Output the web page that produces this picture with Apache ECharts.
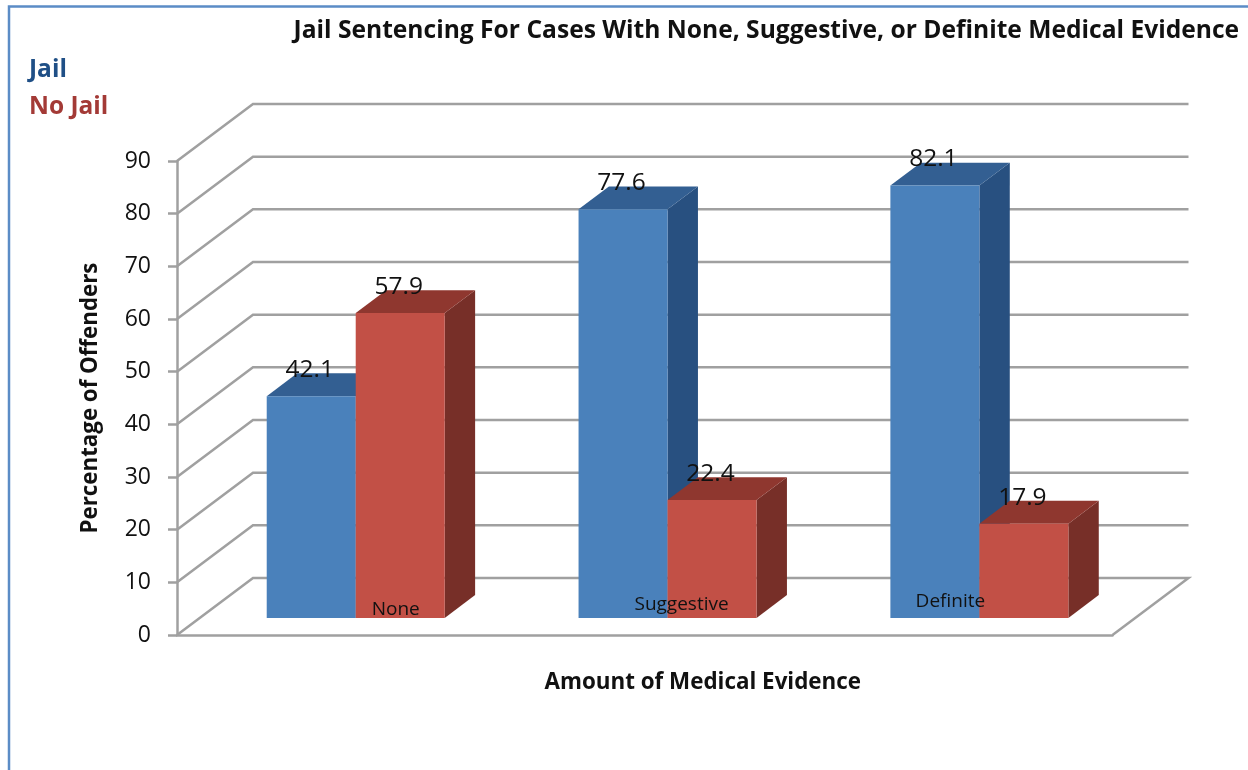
<!DOCTYPE html>
<html>
<head>
<meta charset="utf-8">
<style>html,body{margin:0;padding:0;background:#fff}#c{width:1248px;height:770px}</style>
<script src="https://cdn.jsdelivr.net/npm/echarts@6/dist/echarts.min.js"></script>
</head>
<body>
<div id="c"></div>
<script>
var categories = ['None', 'Suggestive', 'Definite'];
var jail = [42.1, 77.6, 82.1];
var noJail = [57.9, 22.4, 17.9];
var yTicks = [0, 10, 20, 30, 40, 50, 60, 70, 80, 90];

var FONT = '"Open Sans", sans-serif';
var DX = 76, DY = -57;
var BAR_D0 = 0.3, BAR_D1 = 0.7, BAR_W = 0.2854;
var GRID_LINE = '#a0a0a0';
var catLabelShift = [[40, -8], [14, -13], [-29, -16]];

function barRenderer(side, front, top, dark) {
  return function (params, api) {
    var cat = api.value(0), v = api.value(1);
    var base = api.coord([cat, 0]), head = api.coord([cat, v]);
    var w = api.size([1, 0])[0] * BAR_W;
    var x0 = base[0] + DX * BAR_D0 + (side < 0 ? -w : 0), x1 = x0 + w;
    var yb = base[1] + DY * BAR_D0, yt = head[1] + DY * BAR_D0;
    var ox = DX * (BAR_D1 - BAR_D0), oy = DY * (BAR_D1 - BAR_D0);
    return {
      type: 'group',
      children: [
        { type: 'polygon', shape: { points: [[x1, yb], [x1 + ox, yb + oy], [x1 + ox, yt + oy], [x1, yt]] }, style: { fill: dark } },
        { type: 'polygon', shape: { points: [[x0, yt], [x1, yt], [x1 + ox, yt + oy], [x0 + ox, yt + oy]] }, style: { fill: top } },
        { type: 'rect', shape: { x: x0, y: yt, width: w, height: yb - yt }, style: { fill: front } },
        { type: 'text', z2: 50, x: (x0 + x1) / 2 - 1.5, y: yt - 26, style: { text: String(v), font: '24.5px ' + FONT, fill: '#111', align: 'center', verticalAlign: 'middle' } }
      ]
    };
  };
}

var option = {
  animation: false,
  backgroundColor: '#ffffff',
  textStyle: { fontFamily: FONT },
  title: {
    text: 'Jail Sentencing For Cases With None, Suggestive, or Definite Medical Evidence',
    left: 293.5, top: 18, padding: 0,
    textStyle: { fontFamily: FONT, fontSize: 24.6, fontWeight: 'bold', color: '#111' }
  },
  legend: {
    left: 29, top: 58, padding: 0, orient: 'vertical', itemGap: 12, itemWidth: 0, itemHeight: 0, selectedMode: false,
    data: [
      { name: 'Jail', icon: 'none', textStyle: { color: '#1f4f86', fontSize: 24.5, fontWeight: 'bold', padding: [0, 0, 0, -5] } },
      { name: 'No Jail', icon: 'none', textStyle: { color: '#a33a36', fontSize: 24.5, fontWeight: 'bold', padding: [0, 0, 0, -5] } }
    ]
  },
  grid: { left: 177, top: 161, width: 935.5, height: 474, containLabel: false },
  xAxis: {
    type: 'category', data: categories,
    name: 'Amount of Medical Evidence', nameLocation: 'middle', nameGap: 37,
    nameTextStyle: { fontFamily: FONT, fontSize: 22.4, fontWeight: 'bold', color: '#111', padding: [0, 0, 0, 116] },
    axisLine: { lineStyle: { color: GRID_LINE, width: 2.5 } },
    axisTick: { show: false }, axisLabel: { show: false }
  },
  yAxis: {
    type: 'value', min: 0, max: 90, interval: 10,
    name: 'Percentage of Offenders', nameLocation: 'middle', nameRotate: 90, nameGap: 75,
    nameTextStyle: { fontFamily: FONT, fontSize: 22.3, fontWeight: 'bold', color: '#111' },
    axisLine: { show: true, lineStyle: { color: GRID_LINE, width: 2.5 } },
    axisTick: { show: true, length: 9, lineStyle: { color: GRID_LINE, width: 2.5 } },
    axisLabel: { fontFamily: FONT, fontSize: 23, color: '#111', margin: 26, padding: [6, 0, 0, 0] },
    splitLine: { show: false }
  },
  graphic: [
    { type: 'polyline', silent: true, shape: { points: [[9, 770], [9, 6.5], [1248, 6.5]] }, style: { fill: 'none', stroke: '#5b8cc6', lineWidth: 2.5 } }
  ],
  series: [
    {
      type: 'custom', name: 'walls', coordinateSystem: 'cartesian2d', silent: true, z: 1,
      data: yTicks.map(function (t) { return [0, t]; }),
      renderItem: function (params, api) {
        var r = params.coordSys, y = api.coord([0, api.value(1)])[1];
        var pts = [[r.x, y], [r.x + DX, y + DY], [r.x + r.width + DX, y + DY]];
        if (api.value(1) === 0) pts.push([r.x + r.width, y]);
        return { type: 'polyline', shape: { points: pts }, style: { fill: 'none', stroke: GRID_LINE, lineWidth: 2.5 } };
      }
    },
    {
      type: 'custom', name: 'Jail', coordinateSystem: 'cartesian2d', silent: true, z: 3,
      data: jail.map(function (v, i) { return [i, v]; }),
      renderItem: barRenderer(-1, '#4a81bb', '#335f92', '#285080'),
      encode: { x: 0, y: 1 }
    },
    {
      type: 'custom', name: 'No Jail', coordinateSystem: 'cartesian2d', silent: true, z: 4,
      data: noJail.map(function (v, i) { return [i, v]; }),
      renderItem: barRenderer(1, '#c25046', '#8f372f', '#772f28'),
      encode: { x: 0, y: 1 }
    },
    {
      type: 'custom', name: 'categoryLabels', coordinateSystem: 'cartesian2d', silent: true, z: 5,
      data: categories.map(function (c, i) { return [i, 0]; }),
      renderItem: function (params, api) {
        var i = api.value(0), p = api.coord([i, 0]), s = catLabelShift[i];
        return { type: 'text', x: p[0] + DX * BAR_D0 + s[0], y: p[1] + DY * BAR_D0 + s[1],
          style: { text: categories[i], font: '19px ' + FONT, fill: '#111', align: 'center', verticalAlign: 'middle' } };
      }
    }
  ]
};
var chart = echarts.init(document.getElementById('c'));
chart.setOption(option);
</script>
</body>
</html>
